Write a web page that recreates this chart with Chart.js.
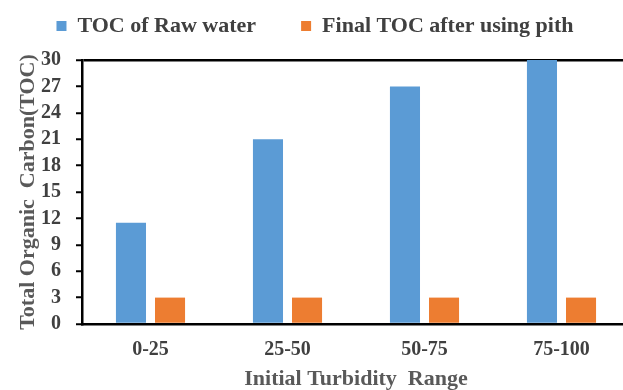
<!DOCTYPE html>
<html>
<head>
<meta charset="utf-8">
<script src="https://cdn.jsdelivr.net/npm/chart.js@4.4.1/dist/chart.umd.min.js"></script>
<style>
  html, body { margin: 0; padding: 0; background: #fff; overflow: hidden; }
  #wrap { width: 630px; height: 390px; }
</style>
</head>
<body>
<div id="wrap"><canvas id="c" width="630" height="390"></canvas></div>
<script>
// Turbidity ranges and TOC readings (mg/L)
const categories = ['0-25', '25-50', '50-75', '75-100'];
const rawWaterTOC = [11.5, 21, 27, 30];
const finalTOC = [3, 3, 3, 3];
const yTicks = [0, 3, 6, 9, 12, 15, 18, 21, 24, 27, 30];

const serif = "'Liberation Serif', 'Times New Roman', serif";
const labelColor = '#404040';
const titleColor = '#595959';

new Chart(document.getElementById('c'), {
  type: 'bar',
  data: {
    labels: categories,
    datasets: [
      { label: 'TOC of Raw water', data: rawWaterTOC, backgroundColor: '#5B9BD5' },
      { label: 'Final TOC after using pith', data: finalTOC, backgroundColor: '#ED7D31' }
    ]
  },
  options: {
    responsive: false,
    animation: false,
    devicePixelRatio: 1,
    categoryPercentage: 0.57,
    barPercentage: 0.77,
    layout: { padding: { top: -30, left: 0, right: 0, bottom: 0 } },
    plugins: {
      tooltip: { enabled: false },
      legend: {
        position: 'top',
        weight: 3000,
        labels: {
          boxWidth: 10,
          boxHeight: 10,
          padding: 45,
          color: labelColor,
          font: { family: serif, size: 22, weight: 'bold' }
        }
      },
      // empty title used as a gap between the legend and the plot
      title: {
        display: true,
        text: '',
        weight: 500,
        padding: { top: 0, bottom: 3 },
        font: { size: 10, lineHeight: 1 }
      }
    },
    scales: {
      x: {
        grid: { display: false, drawTicks: false },
        border: { display: true, color: '#000', width: 2.5 },
        ticks: {
          padding: 14,
          color: labelColor,
          font: { family: serif, size: 20, weight: 'bold' }
        },
        title: {
          display: true,
          text: 'Initial Turbidity  Range',
          color: titleColor,
          padding: { top: 0, bottom: 0 },
          font: { family: serif, size: 22, weight: 'bold', lineHeight: 1 }
        },
        afterFit: (scale) => { scale.height = 66; }
      },
      y: {
        min: 0,
        max: 30,
        afterBuildTicks: (scale) => { scale.ticks = yTicks.map(v => ({ value: v })); },
        grid: {
          drawTicks: true,
          tickLength: 6,
          tickColor: '#000',
          tickWidth: 2,
          color: (ctx) => (ctx.tick && ctx.tick.value === 30 ? '#000' : 'rgba(0,0,0,0)'),
          lineWidth: 2.5
        },
        border: { display: true, color: '#000', width: 2.5 },
        ticks: {
          autoSkip: false,
          padding: 15,
          color: labelColor,
          font: { family: serif, size: 20, weight: 'bold', lineHeight: 1 }
        },
        title: {
          display: true,
          text: 'Total Organic  Carbon(TOC)',
          color: titleColor,
          padding: { top: 15, bottom: 0 },
          font: { family: serif, size: 22, weight: 'bold', lineHeight: 1.2 }
        },
        afterFit: (scale) => { scale.width = 82; }
      }
    }
  }
});
</script>
</body>
</html>
